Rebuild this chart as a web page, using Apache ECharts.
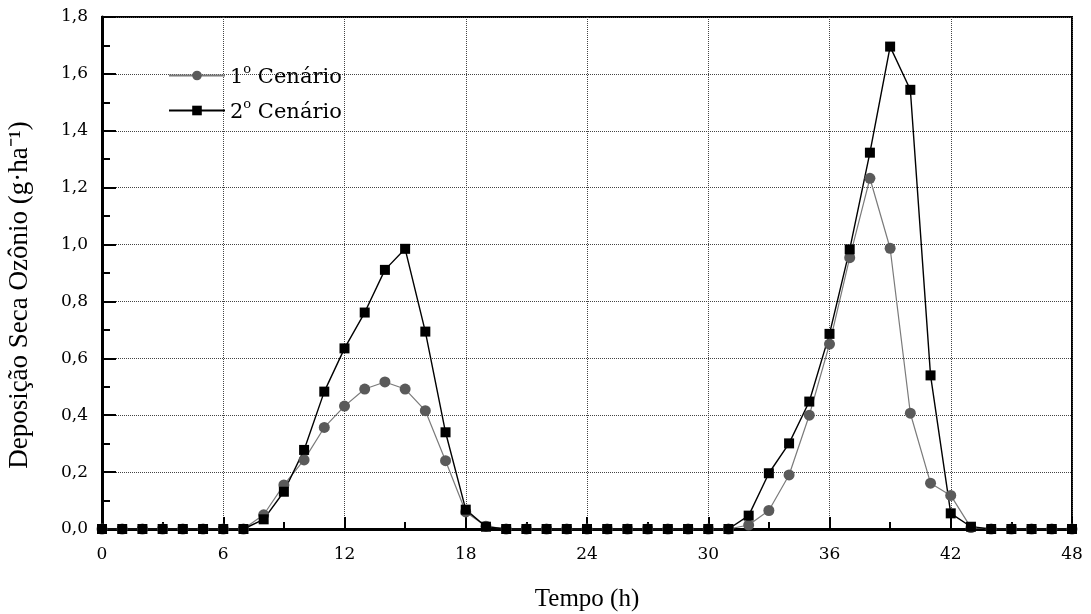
<!DOCTYPE html>
<html>
<head>
<meta charset="utf-8">
<script src="https://cdn.jsdelivr.net/npm/echarts@6/dist/echarts.min.js"></script>
<style>
html, body { margin: 0; padding: 0; background: #fff; }
#chart { width: 1091px; height: 614px; }
</style>
</head>
<body>
<div id="chart"></div>
<script>
// hora (h)
var hours = [0, 1, 2, 3, 4, 5, 6, 7, 8, 9, 10, 11, 12, 13, 14, 15, 16, 17, 18, 19, 20, 21, 22, 23, 24,
             25, 26, 27, 28, 29, 30, 31, 32, 33, 34, 35, 36, 37, 38, 39, 40, 41, 42, 43, 44, 45, 46, 47, 48];
// 1º Cenário
var cenario1 = [0, 0, 0, 0, 0, 0, 0, 0, 0.05, 0.155, 0.243, 0.357, 0.432, 0.492, 0.517, 0.492, 0.416, 0.24, 0.06, 0.01, 0, 0, 0, 0, 0,
                0, 0, 0, 0, 0, 0, 0, 0.014, 0.065, 0.19, 0.40, 0.65, 0.954, 1.233, 0.987, 0.407, 0.161, 0.118, 0.005, 0, 0, 0, 0, 0];
// 2º Cenário
var cenario2 = [0, 0, 0, 0, 0, 0, 0, 0, 0.034, 0.131, 0.278, 0.483, 0.635, 0.761, 0.911, 0.985, 0.694, 0.34, 0.068, 0.008, 0, 0, 0, 0, 0,
                0, 0, 0, 0, 0, 0, 0, 0.047, 0.196, 0.301, 0.448, 0.686, 0.983, 1.323, 1.696, 1.544, 0.54, 0.055, 0.008, 0, 0, 0, 0, 0];

function pares(ys) {
    var out = [];
    for (var i = 0; i < hours.length; i++) {
        out.push([hours[i], ys[i]]);
    }
    return out;
}

var serif = 'Liberation Serif';
var georgia = 'DejaVu Serif';

var chart = echarts.init(document.getElementById('chart'));
var option = {
    backgroundColor: '#fff',
    animation: false,
    grid: {
        left: 102, right: 19, top: 17, bottom: 85,
        containLabel: false, outerBoundsMode: 'none',
        show: true, borderColor: '#000', borderWidth: 2
    },
    legend: {
        left: 163, top: 58, orient: 'vertical',
        itemWidth: 56, itemHeight: 12, itemGap: 10,
        data: ['c1', 'c2'],
        formatter: function(name) {
            return name == 'c1' ? '{n|1}{s|o}{n| Cenário}' : '{n|2}{s|o}{n| Cenário}';
        },
        textStyle: {
            fontFamily: georgia, color: '#000',
            rich: {
                n: { fontFamily: georgia, fontSize: 21, color: '#000', verticalAlign: 'bottom' },
                s: { fontFamily: georgia, fontSize: 13, color: '#000', verticalAlign: 'top', padding: [0, 0, 12, 0] }
            }
        }
    },
    xAxis: {
        type: 'value', min: 0, max: 48, interval: 6,
        name: 'Tempo (h)', nameLocation: 'middle', nameGap: 58,
        nameTextStyle: { fontFamily: serif, fontSize: 25, color: '#000' },
        axisLine: { onZero: false, lineStyle: { color: '#000', width: 3 } },
        axisTick: { inside: true, length: 12, lineStyle: { color: '#000', width: 2 } },
        minorTick: { show: true, splitNumber: 2, length: 7, lineStyle: { color: '#000', width: 2 } },
        axisLabel: { margin: 17, fontFamily: georgia, fontSize: 17, color: '#000' },
        splitLine: { show: true, lineStyle: { type: 'dotted', color: '#444', width: 1 } }
    },
    yAxis: {
        type: 'value', min: 0, max: 1.8, interval: 0.2,
        name: 'Deposição Seca Ozônio (g·ha⁻¹)', nameLocation: 'middle', nameGap: 69,
        nameTextStyle: { fontFamily: serif, fontSize: 27, color: '#000', padding: [0, 44, 0, 0] },
        axisLine: { onZero: false, lineStyle: { color: '#000', width: 3 } },
        axisTick: { inside: true, length: 14, lineStyle: { color: '#000', width: 2 } },
        minorTick: { show: true, splitNumber: 2, length: 8, lineStyle: { color: '#000', width: 2 } },
        axisLabel: {
            margin: 14, fontFamily: georgia, fontSize: 17, color: '#000',
            formatter: function(v) { return v.toFixed(1).replace('.', ','); }
        },
        splitLine: { show: true, lineStyle: { type: 'dotted', color: '#444', width: 1 } }
    },
    series: [{
        name: 'c1', type: 'line',
        data: pares(cenario1),
        symbol: 'circle', symbolSize: 11,
        itemStyle: { color: '#5a5a5a' },
        lineStyle: { color: '#7a7a7a', width: 1.2 },
        clip: false
    }, {
        name: 'c2', type: 'line',
        data: pares(cenario2),
        symbol: 'rect', symbolSize: 10,
        itemStyle: { color: '#000' },
        lineStyle: { color: '#000', width: 1.4 },
        clip: false
    }]
};
chart.setOption(option);
</script>
</body>
</html>
